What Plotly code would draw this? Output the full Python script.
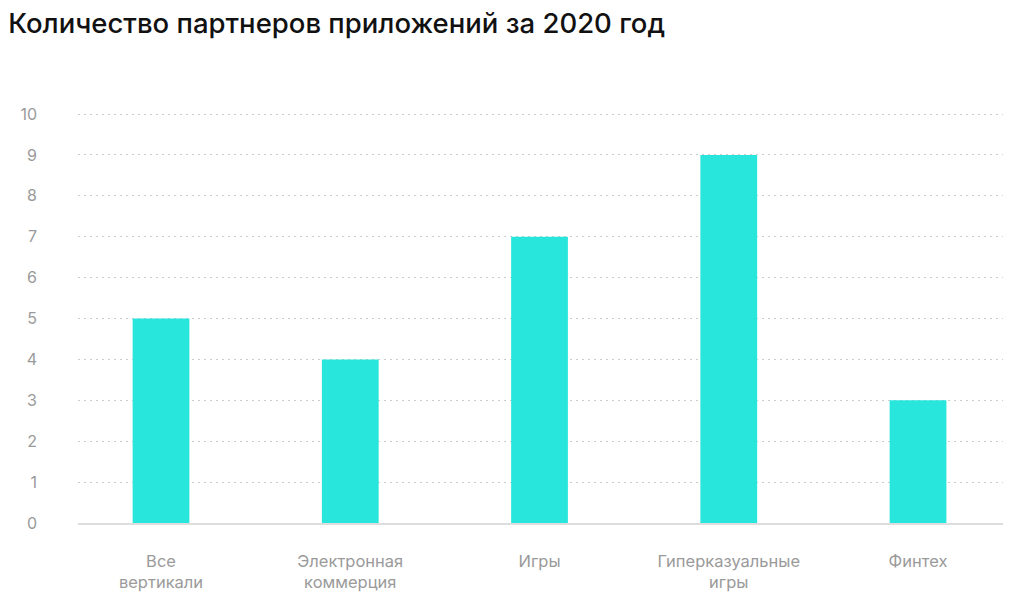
import plotly.graph_objects as go

categories = ["Все<br>вертикали", "Электронная<br>коммерция", "Игры", "Гиперказуальные<br>игры", "Финтех"]
values = [5, 4, 7, 9, 3]
y_ticks = [0, 1, 2, 3, 4, 5, 6, 7, 8, 9, 10]

fig = go.Figure()
fig.add_trace(go.Bar(
    x=list(range(len(categories))),
    y=values,
    width=0.30,
    marker=dict(color="#29E6DC", line=dict(width=0)),
    hoverinfo="skip",
))

fig.update_layout(
    width=1024, height=612,
    margin=dict(l=78, r=21, t=112, b=89),
    paper_bgcolor="white", plot_bgcolor="white",
    showlegend=False,
    font=dict(family="Inter, Lato, sans-serif", color="#9a9a9a", size=16),
    title=dict(
        text="Количество партнеров приложений за 2020 год",
        x=0.008, xanchor="left", y=0.962, yanchor="middle",
        font=dict(family="Inter, sans-serif", size=27.5, color="#111111", weight=500),
    ),
    xaxis=dict(
        tickmode="array",
        tickvals=list(range(len(categories))),
        ticktext=categories,
        range=[-0.4386, 4.449],
        showgrid=False,
        zeroline=False,
        showline=True, linecolor="#dddddd", linewidth=2,
        ticks="",
        ticklabelstandoff=22,
        tickfont=dict(size=16.5, color="#9a9a9a"),
    ),
    yaxis=dict(
        range=[0, 10.05],
        tickmode="array",
        tickvals=y_ticks,
        showgrid=True, gridcolor="#cccccc", griddash="1.5px,4.5px", gridwidth=1.2,
        zeroline=False,
        showline=False,
        ticks="",
        ticklabelstandoff=40,
        tickfont=dict(size=16, color="#9a9a9a"),
    ),
)

fig.write_html("out.html")
